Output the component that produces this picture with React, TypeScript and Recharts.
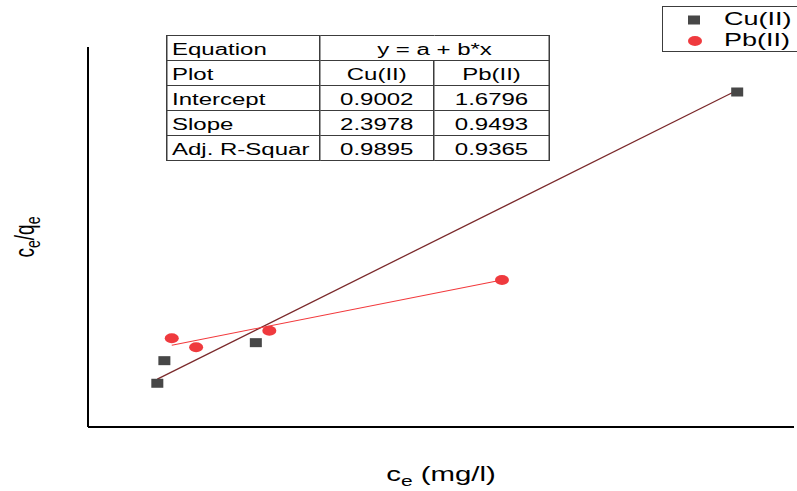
import React from 'react';
import { ComposedChart, Scatter, XAxis, YAxis, ReferenceLine, Label } from 'recharts';

// Langmuir-type linear fits: c_e / q_e against c_e
const cuCe = [0.216, 0.238, 0.523, 2.023];
const cuRatio = [1.356, 1.695, 1.965, 5.725];
const pbCe = [0.261, 0.337, 0.565, 1.29];
const pbRatio = [2.03, 1.896, 2.145, 2.905];

const seriesNames = ['Cu(II)', 'Pb(II)'];
const intercepts = [0.9002, 1.6796];
const slopes = [2.3978, 0.9493];
const adjR2 = [0.9895, 0.9365];
const equationText = 'y = a + b*x';
const rowLabels = ['Equation', 'Plot', 'Intercept', 'Slope', 'Adj. R-Squar'];

const xDomain: [number, number] = [0, 2.2];
const yDomain: [number, number] = [0.7, 6.4];

const CU_COLOR = '#474747';
const PB_COLOR = '#ef3a3e';
const CU_FIT = '#7b2a2c';
const PB_FIT = '#f2393c';
const FONT = '"Liberation Sans", Arial, Helvetica, sans-serif';
const STRETCH = 1.5;

const cuData = cuCe.map((x, i) => ({ x, y: cuRatio[i] }));
const pbData = pbCe.map((x, i) => ({ x, y: pbRatio[i] }));

const fitSegment = (xs: number[], a: number, b: number) => {
  const lo = Math.min(...xs);
  const hi = Math.max(...xs);
  return [
    { x: lo, y: a + b * lo },
    { x: hi, y: a + b * hi },
  ];
};

const SquareMark = (p: any) => (
  <rect x={p.cx - 6} y={p.cy - 4.5} width={12} height={9} fill={CU_COLOR} />
);
const CircleMark = (p: any) => (
  <ellipse cx={p.cx} cy={p.cy} rx={7} ry={5} fill={PB_COLOR} />
);

const XTitle = (props: any) => {
  const vb = props.viewBox || {};
  const cx = vb.x + vb.width / 2;
  return (
    <text
      transform={`translate(${cx}, ${vb.y + 54}) scale(1.4, 1)`}
      textAnchor="middle"
      fontFamily={FONT}
      fontSize={21}
      fill="#000"
    >
      c<tspan fontSize={15} dy={5}>e</tspan>
      <tspan dy={-5}> (mg/l)</tspan>
    </text>
  );
};

const YTitle = (props: any) => {
  const vb = props.viewBox || {};
  const cy = vb.y + vb.height / 2;
  return (
    <text
      transform={`translate(34, ${cy}) rotate(-90) scale(1, ${STRETCH})`}
      textAnchor="middle"
      fontFamily={FONT}
      fontSize={19}
      fill="#000"
    >
      c<tspan fontSize={14} dy={4}>e</tspan>
      <tspan dy={-4}>/q</tspan>
      <tspan fontSize={14} dy={4}>e</tspan>
    </text>
  );
};

const fmt = (v: number) => v.toFixed(4);

const tableBody: string[][] = [
  [rowLabels[0], equationText],
  [rowLabels[1], ...seriesNames],
  [rowLabels[2], ...intercepts.map(fmt)],
  [rowLabels[3], ...slopes.map(fmt)],
  [rowLabels[4], ...adjR2.map(fmt)],
];

const cellBase: React.CSSProperties = {
  border: '1px solid #3c3c3c',
  height: 21,
  padding: '3px 0 0 0',
  fontSize: 16,
  lineHeight: '21px',
  whiteSpace: 'nowrap',
  overflow: 'hidden',
  color: '#000',
};

const FitTable = () => (
  <div
    style={{
      position: 'absolute',
      left: 166,
      top: 35,
      transform: `scaleX(${STRETCH})`,
      transformOrigin: '0 0',
      fontFamily: FONT,
    }}
  >
    <table style={{ borderCollapse: 'collapse', tableLayout: 'fixed', width: 255, background: '#fff' }}>
      <colgroup>
        <col style={{ width: 102 }} />
        <col style={{ width: 76 }} />
        <col style={{ width: 77 }} />
      </colgroup>
      <tbody>
        {tableBody.map((row, r) => (
          <tr key={r}>
            <td style={{ ...cellBase, paddingLeft: 3, textAlign: 'left' }}>{row[0]}</td>
            {r === 0 ? (
              <td colSpan={2} style={{ ...cellBase, textAlign: 'center' }}>{row[1]}</td>
            ) : (
              row.slice(1).map((c, i) => (
                <td key={i} style={{ ...cellBase, textAlign: 'center' }}>{c}</td>
              ))
            )}
          </tr>
        ))}
      </tbody>
    </table>
  </div>
);

const LegendBox = () => (
  <svg
    width={135}
    height={47}
    style={{ position: 'absolute', left: 662, top: 6 }}
  >
    <rect x={0.5} y={0.5} width={200} height={45} fill="#fff" stroke="#3c3c3c" strokeWidth={1} />
    <SquareMark cx={32} cy={14} />
    <CircleMark cx={33} cy={35} />
    {seriesNames.map((name, i) => (
      <text
        key={name}
        transform={`translate(62, ${19 + i * 21}) scale(${STRETCH}, 1)`}
        fontFamily={FONT}
        fontSize={18}
        fill="#000"
      >
        {name}
      </text>
    ))}
  </svg>
);

export default function App() {
  const cuFit = fitSegment(cuCe, intercepts[0], slopes[0]);
  const pbFit = fitSegment(pbCe, intercepts[1], slopes[1]);
  return (
    <div
      style={{
        position: 'absolute',
        left: 0,
        top: 0,
        width: 797,
        height: 491,
        overflow: 'hidden',
        background: '#fff',
      }}
    >
      <ComposedChart
        width={797}
        height={491}
        margin={{ top: 47, right: 3, bottom: 0, left: 0 }}
      >
        <XAxis
          type="number"
          dataKey="x"
          domain={xDomain}
          allowDataOverflow
          height={64}
          tick={false}
          tickLine={false}
          axisLine={{ stroke: '#000', strokeWidth: 2 }}
        >
          <Label content={XTitle} />
        </XAxis>
        <YAxis
          type="number"
          dataKey="y"
          domain={yDomain}
          allowDataOverflow
          width={88}
          tick={false}
          tickLine={false}
          axisLine={{ stroke: '#000', strokeWidth: 2 }}
        >
          <Label content={YTitle} />
        </YAxis>
        <Scatter name={seriesNames[0]} data={cuData} shape={SquareMark} isAnimationActive={false} />
        <Scatter name={seriesNames[1]} data={pbData} shape={CircleMark} isAnimationActive={false} />
        <ReferenceLine segment={cuFit} stroke={CU_FIT} strokeWidth={1.3} ifOverflow="visible" />
        <ReferenceLine segment={pbFit} stroke={PB_FIT} strokeWidth={1.1} ifOverflow="visible" />
      </ComposedChart>
      <FitTable />
      <LegendBox />
    </div>
  );
}
